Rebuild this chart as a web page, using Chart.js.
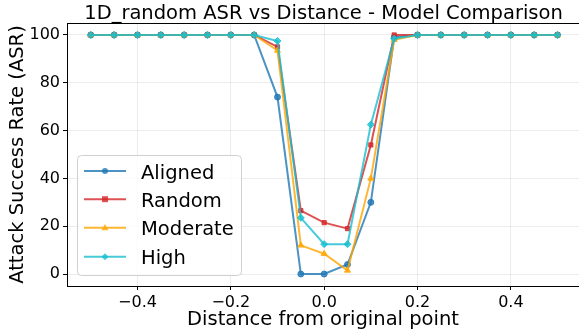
<!DOCTYPE html>
<html><head><meta charset="utf-8">
<script src="https://cdn.jsdelivr.net/npm/chart.js@4"></script>
<style>html,body{margin:0;padding:0;background:#fff}#wrap{width:579px;height:333px;position:relative}</style>
</head><body><div id="wrap"><canvas id="c" width="579" height="333"></canvas></div>
<script>
const chartTitle = '1D_random ASR vs Distance - Model Comparison';
const xAxisTitle = 'Distance from original point';
const yAxisTitle = 'Attack Success Rate (ASR)';
const distances = [-0.5,-0.45,-0.4,-0.35,-0.3,-0.25,-0.2,-0.15,-0.1,-0.05,0,0.05,0.1,0.15,0.2,0.25,0.3,0.35,0.4,0.45,0.5];
const seriesNames = ['Aligned','Random','Moderate','High'];
const aligned  = [100,100,100,100,100,100,100,100,74,0,0,4,30,99,100,100,100,100,100,100,100];
const random   = [100,100,100,100,100,100,100,100,95,26.5,21.5,19,54,100,100,100,100,100,100,100,100];
const moderate = [100,100,100,100,100,100,100,100,93.5,12,8.5,1.5,40,98,100,100,100,100,100,100,100];
const high     = [100,100,100,100,100,100,100,100,97.5,23.5,12.5,12.5,62.5,98.5,100,100,100,100,100,100,100];
const xTicks = [-0.4,-0.2,0,0.2,0.4];
const xTickLabels = ['\u22120.4','\u22120.2','0.0','0.2','0.4'];
const yTicks = [0,20,40,60,80,100];
const yTickLabels = ['0','20','40','60','80','100'];

const FONT = "'DejaVu Sans', sans-serif";
const colors = ['rgba(31,119,180,0.8)','rgba(214,39,40,0.8)','rgba(255,165,0,0.8)','rgba(23,190,207,0.8)'];
const styles = ['circle','rect','triangle','rectRot'];
const radii = [3,3,3.5,3.5];
const seriesValues = [aligned, random, moderate, high];

const datasets = seriesNames.map((name,i)=>({
  label: name,
  data: distances.map((d,j)=>({x:d, y:seriesValues[i][j]})),
  borderColor: colors[i], backgroundColor: colors[i],
  pointBackgroundColor: colors[i], pointBorderColor: colors[i],
  borderWidth: 2, pointStyle: styles[i], pointRadius: radii[i], pointBorderWidth: 1,
  tension: 0, order: 4 - i
}));

function drawMarker(ctx, style, x, y, r, color){
  ctx.save(); ctx.fillStyle = color; ctx.beginPath();
  if (style==='circle'){ ctx.arc(x,y,r,0,Math.PI*2); }
  else if (style==='rect'){ ctx.rect(x-r,y-r,2*r,2*r); }
  else if (style==='triangle'){ ctx.moveTo(x,y-r*1.1); ctx.lineTo(x+r,y+r*0.7); ctx.lineTo(x-r,y+r*0.7); ctx.closePath(); }
  else { ctx.moveTo(x,y-r); ctx.lineTo(x+r,y); ctx.lineTo(x,y+r); ctx.lineTo(x-r,y); ctx.closePath(); }
  ctx.fill(); ctx.restore();
}

const decor = {
  id:'decor',
  afterDatasetsDraw(chart){
    const {ctx, chartArea:a} = chart;
    ctx.save(); ctx.strokeStyle='#000'; ctx.lineWidth=1;
    ctx.beginPath(); ctx.moveTo(a.left, Math.round(a.top)+0.5); ctx.lineTo(a.right, Math.round(a.top)+0.5);
    ctx.stroke(); ctx.restore();
  },
  afterDraw(chart){
    const {ctx} = chart;
    ctx.save();
    ctx.fillStyle='#000'; ctx.font = '19.5px ' + FONT; ctx.textAlign='center'; ctx.textBaseline='alphabetic';
    ctx.fillText(chartTitle, 323.5, 18.5);
    // legend
    const bx=77.5, by=155.5, bw=164, bh=120, rr=4;
    ctx.beginPath();
    ctx.moveTo(bx+rr,by); ctx.lineTo(bx+bw-rr,by); ctx.arcTo(bx+bw,by,bx+bw,by+rr,rr);
    ctx.lineTo(bx+bw,by+bh-rr); ctx.arcTo(bx+bw,by+bh,bx+bw-rr,by+bh,rr);
    ctx.lineTo(bx+rr,by+bh); ctx.arcTo(bx,by+bh,bx,by+bh-rr,rr);
    ctx.lineTo(bx,by+rr); ctx.arcTo(bx,by,bx+rr,by,rr); ctx.closePath();
    ctx.fillStyle='rgba(255,255,255,0.8)'; ctx.fill();
    ctx.strokeStyle='#d0d0d0'; ctx.lineWidth=1; ctx.stroke();
    const rows=[171,199.2,227.8,256.8];
    seriesNames.forEach((n,i)=>{
      const y=rows[i];
      ctx.strokeStyle=colors[i]; ctx.lineWidth=2;
      ctx.beginPath(); ctx.moveTo(84,y); ctx.lineTo(126,y); ctx.stroke();
      drawMarker(ctx, styles[i], 105, y, radii[i], colors[i]);
      ctx.fillStyle='#000'; ctx.textAlign='left'; ctx.textBaseline='alphabetic';
      ctx.fillText(n, 141, y+7.5);
    });
    ctx.restore();
  }
};

new Chart(document.getElementById('c'), {
  type:'line',
  data:{datasets},
  options:{
    responsive:false, animation:false, devicePixelRatio:1,
    layout:{autoPadding:false, padding:{top:23,left:0,right:0,bottom:0}},
    plugins:{legend:{display:false}, tooltip:{enabled:false}, title:{display:false}},
    scales:{
      x:{type:'linear', min:-0.551, max:0.546,
        afterBuildTicks:s=>{ s.ticks = xTicks.map(v=>({value:v})); },
        afterFit:s=>{ s.height = 47; s.paddingLeft = 0; s.paddingRight = 0; },
        ticks:{callback:(v,i)=>xTickLabels[i], font:{family:FONT,size:16}, color:'#000', padding:3, maxRotation:0, autoSkip:false},
        grid:{color:'rgba(176,176,176,0.3)', lineWidth:0.8, tickLength:4, tickColor:'#000', tickWidth:1},
        border:{color:'#000', width:1},
        title:{display:true, text:xAxisTitle, font:{family:FONT,size:19.5}, color:'#000', padding:{top:0,bottom:1.5}}
      },
      y:{type:'linear', min:-5, max:105,
        afterBuildTicks:s=>{ s.ticks = yTicks.map(v=>({value:v})); },
        afterFit:s=>{ s.width = 67; s.paddingTop = 0; s.paddingBottom = 0; },
        ticks:{callback:(v,i)=>yTickLabels[i], font:{family:FONT,size:16}, color:'#000', padding:3, autoSkip:false},
        grid:{color:'rgba(176,176,176,0.3)', lineWidth:0.8, tickLength:4, tickColor:'#000', tickWidth:1},
        border:{color:'#000', width:1},
        title:{display:true, text:yAxisTitle, font:{family:FONT,size:19.5}, color:'#000', padding:{top:6.5,bottom:0}}
      }
    }
  },
  plugins:[decor]
});
</script></body></html>
